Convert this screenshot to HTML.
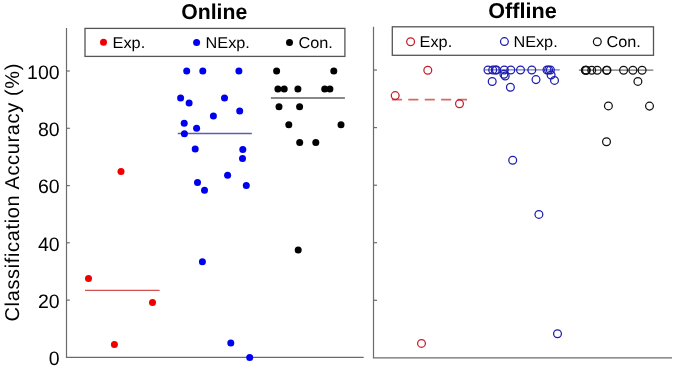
<!DOCTYPE html>
<html><head><meta charset="utf-8"><title>Classification Accuracy</title>
<style>html,body{margin:0;padding:0;background:#fff;width:675px;height:367px;overflow:hidden}svg{display:block}</style>
</head><body>
<svg width="675" height="367" viewBox="0 0 675 367" text-rendering="geometricPrecision">
<rect width="675" height="367" fill="#fff"/>
<text x="181.2" y="19.1" font-family="Liberation Sans, Arial, sans-serif" font-weight="bold" font-size="21.5" textLength="66.0" lengthAdjust="spacingAndGlyphs">Online</text>
<text x="488.2" y="17.7" font-family="Liberation Sans, Arial, sans-serif" font-weight="bold" font-size="21.5" textLength="68.5" lengthAdjust="spacingAndGlyphs">Offline</text>
<text transform="translate(18.5,321.5) rotate(-90)" font-family="Liberation Sans, Arial, sans-serif" font-size="20" textLength="258.0" lengthAdjust="spacing">Classification Accuracy (%)</text>
<text x="59.6" y="365.1" font-family="Liberation Sans, Arial, sans-serif" font-size="19.5" text-anchor="end">0</text>
<text x="59.6" y="307.8" font-family="Liberation Sans, Arial, sans-serif" font-size="19.5" text-anchor="end">20</text>
<text x="59.6" y="250.5" font-family="Liberation Sans, Arial, sans-serif" font-size="19.5" text-anchor="end">40</text>
<text x="59.6" y="193.3" font-family="Liberation Sans, Arial, sans-serif" font-size="19.5" text-anchor="end">60</text>
<text x="59.6" y="136.0" font-family="Liberation Sans, Arial, sans-serif" font-size="19.5" text-anchor="end">80</text>
<text x="59.6" y="78.7" font-family="Liberation Sans, Arial, sans-serif" font-size="19.5" text-anchor="end">100</text>
<g stroke="#6b6b6b" stroke-width="1.2" fill="none">
<path d="M66.5,27.9 V357.4 H363.7"/>
<path d="M66.5,300.1 h3.3"/>
<path d="M66.5,242.8 h3.3"/>
<path d="M66.5,185.6 h3.3"/>
<path d="M66.5,128.3 h3.3"/>
<path d="M66.5,71.0 h3.3"/>
<path d="M373.5,26.8 V357.9 H672.0"/>
<path d="M373.5,300.3 h3.5"/>
<path d="M373.5,242.7 h3.5"/>
<path d="M373.5,185.2 h3.5"/>
<path d="M373.5,127.6 h3.5"/>
<path d="M373.5,70.0 h3.5"/>
</g>
<path d="M85.0,290.4 H159.6" stroke="#d05252" stroke-width="1.3"/>
<path d="M177.8,133.5 H251.8" stroke="#5c5cb4" stroke-width="1.3"/>
<path d="M270.9,98.0 H344.9" stroke="#606060" stroke-width="1.3"/>
<path d="M391.9,99.7 H467" stroke="#d46a6a" stroke-width="1.7" stroke-dasharray="10.1,6.3"/>
<path d="M485,69.8 H559.8" stroke="#7878c4" stroke-width="1.2"/>
<path d="M578.9,70.1 H653.3" stroke="#707070" stroke-width="1.2"/>
<circle cx="88.5" cy="278.6" r="3.5" fill="#f00000"/>
<circle cx="121.0" cy="171.4" r="3.5" fill="#f00000"/>
<circle cx="152.5" cy="302.4" r="3.5" fill="#f00000"/>
<circle cx="114.4" cy="344.4" r="3.5" fill="#f00000"/>
<circle cx="186.7" cy="71.0" r="3.5" fill="#0000f0"/>
<circle cx="202.8" cy="71.1" r="3.5" fill="#0000f0"/>
<circle cx="238.9" cy="71.1" r="3.5" fill="#0000f0"/>
<circle cx="180.6" cy="97.9" r="3.5" fill="#0000f0"/>
<circle cx="189.1" cy="103.0" r="3.5" fill="#0000f0"/>
<circle cx="224.5" cy="97.9" r="3.5" fill="#0000f0"/>
<circle cx="239.7" cy="110.9" r="3.5" fill="#0000f0"/>
<circle cx="213.4" cy="116.0" r="3.5" fill="#0000f0"/>
<circle cx="184.2" cy="123.2" r="3.5" fill="#0000f0"/>
<circle cx="196.6" cy="128.3" r="3.5" fill="#0000f0"/>
<circle cx="184.4" cy="133.8" r="3.5" fill="#0000f0"/>
<circle cx="195.2" cy="149.0" r="3.5" fill="#0000f0"/>
<circle cx="242.8" cy="149.6" r="3.5" fill="#0000f0"/>
<circle cx="242.5" cy="158.6" r="3.5" fill="#0000f0"/>
<circle cx="227.6" cy="175.2" r="3.5" fill="#0000f0"/>
<circle cx="197.5" cy="182.4" r="3.5" fill="#0000f0"/>
<circle cx="204.5" cy="190.3" r="3.5" fill="#0000f0"/>
<circle cx="246.3" cy="185.5" r="3.5" fill="#0000f0"/>
<circle cx="202.4" cy="261.8" r="3.5" fill="#0000f0"/>
<circle cx="230.8" cy="343.0" r="3.5" fill="#0000f0"/>
<circle cx="249.7" cy="357.4" r="3.5" fill="#0000f0"/>
<circle cx="276.6" cy="71.0" r="3.5" fill="#000"/>
<circle cx="333.8" cy="71.0" r="3.5" fill="#000"/>
<circle cx="277.9" cy="89.1" r="3.5" fill="#000"/>
<circle cx="284.2" cy="89.1" r="3.5" fill="#000"/>
<circle cx="297.9" cy="89.1" r="3.5" fill="#000"/>
<circle cx="324.7" cy="89.1" r="3.5" fill="#000"/>
<circle cx="329.9" cy="89.1" r="3.5" fill="#000"/>
<circle cx="279.0" cy="106.8" r="3.5" fill="#000"/>
<circle cx="299.6" cy="106.8" r="3.5" fill="#000"/>
<circle cx="288.8" cy="124.8" r="3.5" fill="#000"/>
<circle cx="341.0" cy="124.8" r="3.5" fill="#000"/>
<circle cx="299.7" cy="142.6" r="3.5" fill="#000"/>
<circle cx="315.8" cy="142.6" r="3.5" fill="#000"/>
<circle cx="298.2" cy="249.9" r="3.5" fill="#000"/>
<g fill="none" stroke-width="1.25">
<circle cx="427.8" cy="70.2" r="3.9" stroke="#c41c28"/>
<circle cx="395.2" cy="95.6" r="3.9" stroke="#c41c28"/>
<circle cx="459.5" cy="103.8" r="3.9" stroke="#c41c28"/>
<circle cx="421.5" cy="343.4" r="3.9" stroke="#c41c28"/>
<circle cx="488.0" cy="70.0" r="3.9" stroke="#1c1cb0"/>
<circle cx="492.7" cy="70.0" r="3.9" stroke="#1c1cb0"/>
<circle cx="495.3" cy="70.0" r="3.9" stroke="#1c1cb0"/>
<circle cx="496.4" cy="70.0" r="3.9" stroke="#1c1cb0"/>
<circle cx="504.3" cy="70.0" r="3.9" stroke="#1c1cb0"/>
<circle cx="510.8" cy="70.0" r="3.9" stroke="#1c1cb0"/>
<circle cx="520.5" cy="70.0" r="3.9" stroke="#1c1cb0"/>
<circle cx="531.8" cy="70.0" r="3.9" stroke="#1c1cb0"/>
<circle cx="547.0" cy="70.0" r="3.9" stroke="#1c1cb0"/>
<circle cx="548.6" cy="70.0" r="3.9" stroke="#1c1cb0"/>
<circle cx="550.4" cy="70.0" r="3.9" stroke="#1c1cb0"/>
<circle cx="503.9" cy="74.2" r="3.9" stroke="#1c1cb0"/>
<circle cx="505.2" cy="76.0" r="3.9" stroke="#1c1cb0"/>
<circle cx="492.2" cy="81.5" r="3.9" stroke="#1c1cb0"/>
<circle cx="510.4" cy="87.3" r="3.9" stroke="#1c1cb0"/>
<circle cx="536.0" cy="79.6" r="3.9" stroke="#1c1cb0"/>
<circle cx="551.1" cy="75.0" r="3.9" stroke="#1c1cb0"/>
<circle cx="554.5" cy="80.4" r="3.9" stroke="#1c1cb0"/>
<circle cx="512.7" cy="160.2" r="3.9" stroke="#1c1cb0"/>
<circle cx="538.9" cy="214.4" r="3.9" stroke="#1c1cb0"/>
<circle cx="557.5" cy="333.8" r="3.9" stroke="#1c1cb0"/>
<circle cx="585.3" cy="70.2" r="3.9" stroke="#111"/>
<circle cx="585.8" cy="70.2" r="3.9" stroke="#111"/>
<circle cx="586.4" cy="70.2" r="3.9" stroke="#111"/>
<circle cx="591.7" cy="70.2" r="3.9" stroke="#111"/>
<circle cx="597.2" cy="70.2" r="3.9" stroke="#111"/>
<circle cx="606.6" cy="70.2" r="3.9" stroke="#111"/>
<circle cx="607.0" cy="70.2" r="3.9" stroke="#111"/>
<circle cx="623.6" cy="70.2" r="3.9" stroke="#111"/>
<circle cx="632.9" cy="70.2" r="3.9" stroke="#111"/>
<circle cx="642.1" cy="70.2" r="3.9" stroke="#111"/>
<circle cx="637.9" cy="81.4" r="3.9" stroke="#111"/>
<circle cx="608.4" cy="105.9" r="3.9" stroke="#111"/>
<circle cx="649.5" cy="106.1" r="3.9" stroke="#111"/>
<circle cx="606.5" cy="141.8" r="3.9" stroke="#111"/>
</g>
<rect x="85.0" y="28.4" width="259.9" height="28.0" fill="#fff" stroke="#555" stroke-width="1.3"/>
<circle cx="103.5" cy="42.3" r="3.5" fill="#f00000"/>
<circle cx="196.6" cy="42.5" r="3.5" fill="#0000f0"/>
<circle cx="289.5" cy="42.4" r="3.5" fill="#000"/>
<text x="112.6" y="47.7" font-family="Liberation Sans, Arial, sans-serif" font-size="15.6" lengthAdjust="spacingAndGlyphs" textLength="32.6">Exp.</text>
<text x="205.6" y="47.7" font-family="Liberation Sans, Arial, sans-serif" font-size="15.6" lengthAdjust="spacingAndGlyphs" textLength="44.3">NExp.</text>
<text x="298.5" y="47.7" font-family="Liberation Sans, Arial, sans-serif" font-size="15.6" lengthAdjust="spacingAndGlyphs" textLength="34.4">Con.</text>
<rect x="392.3" y="26.8" width="261.2" height="28.5" fill="#fff" stroke="#555" stroke-width="1.3"/>
<circle cx="410.6" cy="41.7" r="3.9" fill="none" stroke="#c41c28" stroke-width="1.25"/>
<circle cx="504.4" cy="41.6" r="3.9" fill="none" stroke="#1c1cb0" stroke-width="1.25"/>
<circle cx="597.3" cy="41.7" r="3.9" fill="none" stroke="#111" stroke-width="1.25"/>
<text x="419.6" y="46.8" font-family="Liberation Sans, Arial, sans-serif" font-size="15.6" lengthAdjust="spacingAndGlyphs" textLength="32.6">Exp.</text>
<text x="513.4" y="46.8" font-family="Liberation Sans, Arial, sans-serif" font-size="15.6" lengthAdjust="spacingAndGlyphs" textLength="44.3">NExp.</text>
<text x="606.5" y="46.8" font-family="Liberation Sans, Arial, sans-serif" font-size="15.6" lengthAdjust="spacingAndGlyphs" textLength="34.4">Con.</text>
</svg>
</body></html>
